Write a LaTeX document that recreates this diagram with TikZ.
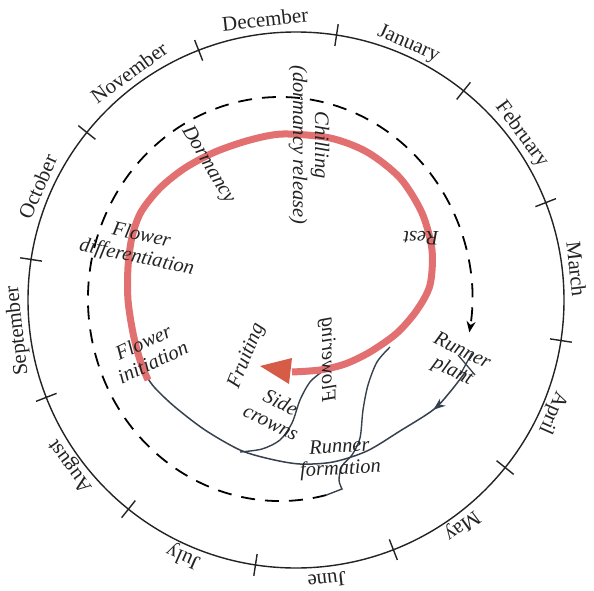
\documentclass[tikz,border=0pt]{standalone}
\usepackage{fontspec}
\setmainfont{Liberation Serif}
\usetikzlibrary{arrows.meta,decorations.markings,calc}
\definecolor{ringred}{RGB}{226,112,112}
\definecolor{arrowred}{RGB}{214,92,72}
\definecolor{stemgray}{RGB}{55,65,78}
\definecolor{ink}{RGB}{35,35,35}
\begin{document}
\begin{tikzpicture}[x=1pt,y=1pt,
  month/.style={font=\fontsize{21}{24}\selectfont, text=ink, anchor=base, inner sep=0pt},
  stage/.style={font=\fontsize{20.5}{22}\selectfont\itshape, text=ink, align=center, inner sep=0pt},
  stem/.style={draw=stemgray, line width=1.4pt},
  dashring/.style={draw=black, line width=1.8pt, dash pattern=on 14pt off 10pt},
  redring/.style={draw=ringred, line width=7pt}]
\useasboundingbox (0,0) rectangle (594,-591);
\fill[white] (0,0) rectangle (594,-591);
% outer calendar circle
\coordinate (C) at (296,-300);
\draw[ink, line width=1.4pt] (C) circle[radius=268];
\foreach \t in {81.3,51.3,21.3,-8.7,-38.7,-68.7,-98.7,-128.7,-158.7,171.3,141.3,111.3}
  \draw[ink, line width=1.4pt] ($(C)+(\t:257)$) -- ($(C)+(\t:279)$);
\foreach \a/\m in {96.3/December,66.3/January,36.3/February,6.3/March,-23.7/April,-53.7/May,-83.7/June,-113.7/July,-143.7/August,-173.7/September,156.3/October,126.3/November}
  \node[month, rotate=\a-90] (m\m) at ($(C)+(\a:275)$) {\m};
% dashed runner ring
\coordinate (E) at (280,-299);
\coordinate (ds) at ($(E)+(-76:192 and 202)$);
\draw[dashring, -{Stealth[length=11pt,width=9pt]}] (ds) arc[start angle=-76, end angle=-369.5, x radius=192, y radius=202];
% runner plant mark
\coordinate (rp) at (467,-365);
\draw[stem, line width=1.3pt] (458,-355) -- (475,-375) (472,-353) -- (460,-375);
% main thin path from runner plant to flower initiation
\draw[stem, line width=1.5pt, postaction={decorate},
  decoration={markings, mark=at position 0.13 with {\arrow{Stealth[length=12pt,width=9pt]}}}]
  plot[smooth] coordinates {(467,-370) (450,-392) (433,-410) (400,-431) (367,-451) (333,-462) (300,-464) (270,-459) (240,-450) (205,-430) (175,-407) (155,-388) (146,-375) (140,-358)};
% side crowns branch
\draw[stem] plot[smooth] coordinates {(323,-371) (310,-382) (300,-400) (292,-423) (280,-440) (262,-449) (240,-452)};
% runner formation branch
\draw[stem] plot[smooth] coordinates {(390,-347) (377,-362) (368,-385) (363,-410) (360,-438) (352,-455) (342,-466) (339,-480) (342,-489)} -- (ds);
% red ring
\draw[redring] plot[smooth] coordinates {(148,-380) (140,-360) (133,-333) (128,-300) (128,-267) (132,-237) (141,-212) (160,-188) (185,-168) (215,-152) (250,-140) (283,-134) (330,-138) (367,-152) (400,-178) (422,-213) (432,-250) (430,-285) (417,-310) (397,-333) (370,-352) (345,-364) (320,-370) (292,-372)};
\fill[arrowred] (292,-358) -- (260,-366) -- (289,-384) -- cycle;
% labels
\node[stage, rotate=-90] (chill) at (309,-145) {Chilling\\(dormancy release)};
\node[stage, rotate=-59] (dorm) at (208,-165) {Dormancy};
\node[stage, rotate=180] (rest) at (421,-238) {Rest};
\node[stage, rotate=-12] (fdiff) at (139,-247) {Flower\\differentiation};
\node[stage, rotate=25] (finit) at (148,-352) {Flower\\initiation};
\node[stage, rotate=68] (fruit) at (247,-356) {Fruiting};
\node[stage, rotate=-90, xscale=-1] (flow) at (327,-360) {Flowering};
\node[stage, rotate=-26] (side) at (276,-412) {Side\\crowns};
\node[stage, rotate=3] (rform) at (340,-459) {Runner\\formation};
\node[stage, rotate=-26] (rplant) at (457,-362) {Runner\\plant};
\end{tikzpicture}
\end{document}
